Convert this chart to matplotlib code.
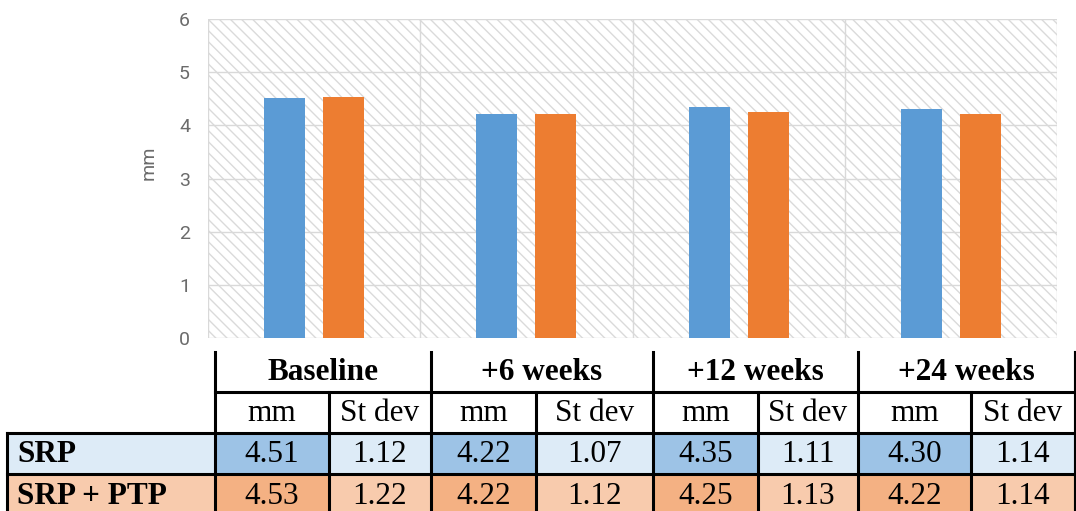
import numpy as np
import matplotlib.pyplot as plt
from matplotlib.patches import Rectangle

# periodontal pocket depth, SRP vs SRP + PTP
periods = ["Baseline", "+6 weeks", "+12 weeks", "+24 weeks"]
srp_mm = [4.51, 4.22, 4.35, 4.30]
srp_sd = [1.12, 1.07, 1.11, 1.14]
ptp_mm = [4.53, 4.22, 4.25, 4.22]
ptp_sd = [1.22, 1.12, 1.13, 1.14]
groups = ["SRP", "SRP + PTP"]
sub_cols = ["mm", "St dev"]

blue = "#5b9bd5"
orange = "#ed7d31"
grid_col = "#d9d9d9"
axis_txt = "#6b6b6b"

W, H = 1076, 511
fig = plt.figure(figsize=(W / 100, H / 100), dpi=100)

# chart part
ax = fig.add_axes([208 / W, 1 - 338 / H, 849 / W, 319 / H])
bg = Rectangle((0, 0), 1, 1, transform=ax.transAxes, facecolor="white",
               edgecolor="#dadada", hatch="\\\\\\", linewidth=0, zorder=0.1)
ax.add_patch(bg)

x = np.arange(len(periods))
bw = 0.193
off = 0.139
ax.bar(x - off, srp_mm, bw, color=blue, zorder=2)
ax.bar(x + off, ptp_mm, bw, color=orange, zorder=2)

ax.set_xlim(-0.5, len(periods) - 0.5)
ax.set_ylim(0, 6)
ax.set_yticks(range(7))
ax.set_xticks([])
ax.set_xticks(np.arange(-0.5, len(periods)), minor=True)
ax.grid(axis="y", color=grid_col, linewidth=1, zorder=0.5)
ax.grid(axis="x", which="minor", color=grid_col, linewidth=1, zorder=0.5)
ax.tick_params(axis="y", length=0, pad=13, labelsize=14, labelcolor=axis_txt)
ax.tick_params(axis="x", which="both", length=0)
for lbl in ax.get_yticklabels():
    lbl.set_family("Roboto")
for s in ax.spines.values():
    s.set_visible(False)
ax.set_ylabel("mm", fontsize=14, color=axis_txt, family="Roboto")
ax.yaxis.set_label_coords(-0.059, 0.55)

# table part, drawn in pixel coords
tb = fig.add_axes([0, 0, 1, 1], zorder=-1)
tb.set_xlim(0, W)
tb.set_ylim(H, 0)
tb.axis("off")

xs = [7, 215, 329, 431, 536, 653, 758, 858, 971, 1075]
y_head, y_sub, y_r1, y_r2, y_end = 352, 392, 433, 474, 516
fs = 22.5
serif = "Liberation Serif"
row_bg = [("#ddebf7", "#9dc3e6"), ("#f8cbad", "#f4b183")]
row_vals = [(srp_mm, srp_sd), (ptp_mm, ptp_sd)]
row_y = [(y_r1, y_r2), (y_r2, y_end)]

for r, name in enumerate(groups):
    y0, y1 = row_y[r]
    light, dark = row_bg[r]
    tb.add_patch(Rectangle((xs[0], y0), xs[-1] - xs[0], y1 - y0, color=light, zorder=1))
    tb.text(17, (y0 + y1) / 2 + 1, name, ha="left", va="center", fontsize=fs,
            fontweight="bold", family=serif, zorder=3)
    mm_vals, sd_vals = row_vals[r]
    for i in range(len(periods)):
        xa, xb, xc = xs[1 + 2 * i], xs[2 + 2 * i], xs[3 + 2 * i]
        tb.add_patch(Rectangle((xa, y0), xb - xa, y1 - y0, color=dark, zorder=1))
        tb.text((xa + xb) / 2, (y0 + y1) / 2 + 1, f"{mm_vals[i]:.2f}", ha="center",
                va="center", fontsize=fs, family=serif, zorder=3)
        tb.text((xb + xc) / 2, (y0 + y1) / 2 + 1, f"{sd_vals[i]:.2f}", ha="center",
                va="center", fontsize=fs, family=serif, zorder=3)

for i, p in enumerate(periods):
    xa, xb, xc = xs[1 + 2 * i], xs[2 + 2 * i], xs[3 + 2 * i]
    tb.text((xa + xc) / 2, (y_head + y_sub) / 2 + 1, p, ha="center", va="center",
            fontsize=fs, fontweight="bold", family=serif, zorder=3)
    for j, s in enumerate(sub_cols):
        xl, xr = (xa, xb) if j == 0 else (xb, xc)
        tb.text((xl + xr) / 2, (y_sub + y_r1) / 2 + 1, s, ha="center", va="center",
                fontsize=fs, family=serif, zorder=3)

lw = 2.2
kw = dict(color="black", linewidth=lw, zorder=4, solid_capstyle="projecting")
# horizontal rules
tb.plot([xs[1], xs[-1]], [y_sub, y_sub], **kw)
for yy in (y_r1, y_r2):
    tb.plot([xs[0], xs[-1]], [yy, yy], **kw)
# group dividers run through the header row
for k in range(1, len(xs), 2):
    tb.plot([xs[k], xs[k]], [y_head, y_end], **kw)
tb.plot([xs[-1], xs[-1]], [y_head, y_end], **kw)
# sub column dividers
for k in range(2, len(xs) - 1, 2):
    tb.plot([xs[k], xs[k]], [y_sub, y_end], **kw)
tb.plot([xs[0], xs[0]], [y_r1, y_end], **kw)

fig.savefig("out.png", dpi=100)
